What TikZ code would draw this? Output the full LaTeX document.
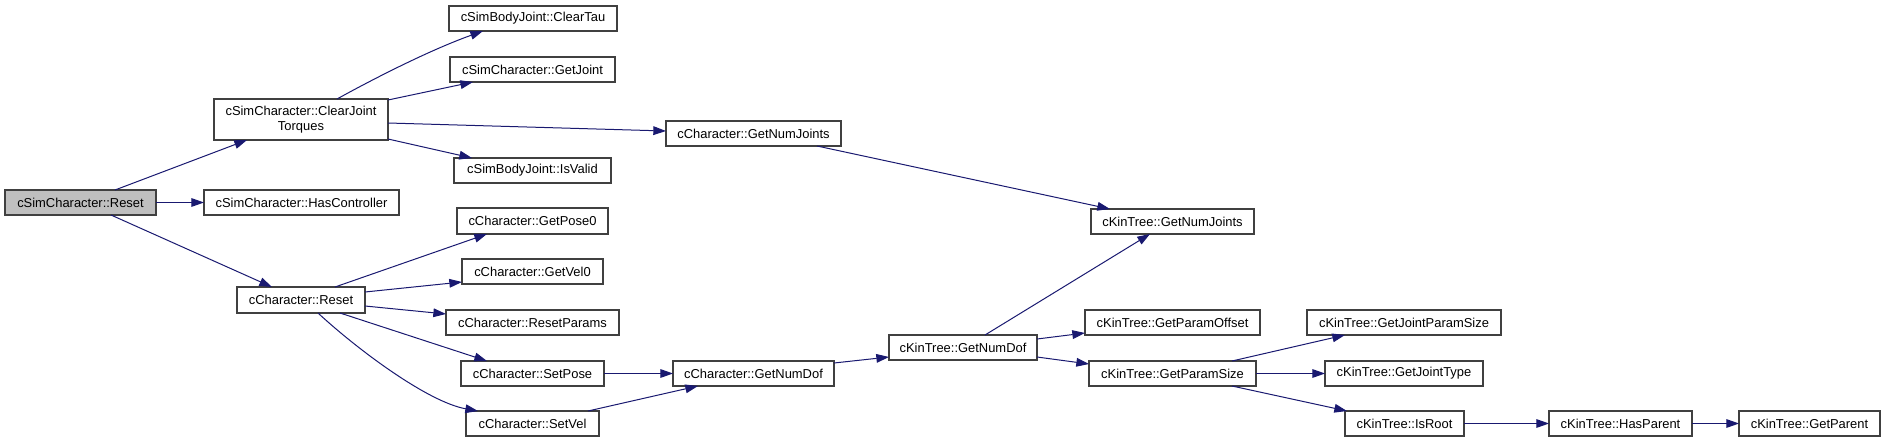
\documentclass[tikz,border=0pt]{standalone}
\usepackage{fontspec}
\setmainfont{Liberation Sans}
\usetikzlibrary{arrows.meta}
\definecolor{edgeblue}{RGB}{25,25,112}
\definecolor{boxborder}{RGB}{64,64,64}
\definecolor{rootfill}{RGB}{191,191,191}
\newcommand\fnbox[7][]{\node[fnnode,#1,minimum width={(#5-#3)*0.75pt},minimum height={(#6-#4)*0.75pt}] (#2) at ({(#3+#5)/2},{(#4+#6)/2}) {#7};}
\newcommand\callto[7][]{\draw[calledge,#1] ([shift={(#3,#4)}]#2.north west) -- ([shift={(#6,#7)}]#5.north west);}
\begin{document}
\begin{tikzpicture}[x=0.75pt,y=-0.75pt,
  fnnode/.style={draw=boxborder,line width=0.8pt,fill=white,inner sep=0pt,outer sep=0pt,
    font=\fontsize{9.7}{11.6}\selectfont,align=center},
  calledge/.style={draw=edgeblue,line width=0.75pt,-{Triangle[length=9.5pt,width=6.5pt]}}]
\useasboundingbox (0,0) rectangle (1885,443);
% nodes
\fnbox[fill=rootfill]{reset}{5}{190}{156}{215}{cSimCharacter::Reset}
\fnbox{hasctrl}{204}{190}{399}{215}{cSimCharacter::HasController}
\fnbox{clearjt}{214}{99}{388}{140}{cSimCharacter::ClearJoint\\Torques}
\fnbox{creset}{237}{287}{365}{313}{cCharacter::Reset}
\fnbox{cleartau}{449}{6}{617}{31}{cSimBodyJoint::ClearTau}
\fnbox{getjoint}{450}{57}{615}{82}{cSimCharacter::GetJoint}
\fnbox{isvalid}{454}{158}{611}{183}{cSimBodyJoint::IsValid}
\fnbox{getpose}{457}{208}{608}{234}{cCharacter::GetPose0}
\fnbox{getvel}{462}{259}{603}{284}{cCharacter::GetVel0}
\fnbox{resetparams}{446}{310}{619}{335}{cCharacter::ResetParams}
\fnbox{setpose}{461}{361}{604}{386}{cCharacter::SetPose}
\fnbox{setvel}{466}{411}{599}{436}{cCharacter::SetVel}
\fnbox{cnumjoints}{666}{121}{841}{146}{cCharacter::GetNumJoints}
\fnbox{cnumdof}{673}{361}{834}{386}{cCharacter::GetNumDof}
\fnbox{knumdof}{889}{335}{1037}{360}{cKinTree::GetNumDof}
\fnbox{knumjoints}{1091}{209}{1254}{234}{cKinTree::GetNumJoints}
\fnbox{paramoffset}{1085}{310}{1260}{335}{cKinTree::GetParamOffset}
\fnbox{paramsize}{1089}{361}{1256}{386}{cKinTree::GetParamSize}
\fnbox{jointparamsize}{1307}{310}{1501}{335}{cKinTree::GetJointParamSize}
\fnbox{jointtype}{1325}{361}{1483}{386}{cKinTree::GetJointType}
\fnbox{isroot}{1345}{411}{1464}{436}{cKinTree::IsRoot}
\fnbox{hasparent}{1549}{411}{1692}{436}{cKinTree::HasParent}
\fnbox{getparent}{1739}{411}{1880}{436}{cKinTree::GetParent}
% edges
\callto{reset}{110}{0}{clearjt}{33}{41}
\callto{reset}{151}{12.5}{hasctrl}{0}{12.5}
\callto{reset}{106}{25}{creset}{35}{0}
\draw[calledge] ([shift={(123,0)}]clearjt.north west) .. controls (375,78) and (430,50) .. ([shift={(34,25)}]cleartau.north west);
\callto{clearjt}{174}{1}{getjoint}{23}{25}
\callto{clearjt}{174}{24}{cnumjoints}{0}{10}
\callto{clearjt}{174}{40}{isvalid}{18}{0}
\callto{creset}{98}{0}{getpose}{30}{26}
\callto{creset}{128}{5}{getvel}{0}{23}
\callto{creset}{128}{19}{resetparams}{0}{4}
\callto{creset}{103}{26}{setpose}{26}{0}
\draw[calledge] ([shift={(81,26)}]creset.north west) .. controls (358,350) and (428,402) .. ([shift={(12,0)}]setvel.north west);
\callto{setpose}{143}{12.5}{cnumdof}{0}{12.5}
\callto{setvel}{122}{0}{cnumdof}{25}{25}
\callto{cnumjoints}{151}{25}{knumjoints}{19}{0}
\callto{cnumdof}{161}{2}{knumdof}{0}{22}
\callto{knumdof}{96}{0}{knumjoints}{59}{25}
\callto{knumdof}{148}{4}{paramoffset}{0}{23}
\callto{knumdof}{148}{22}{paramsize}{0}{3}
\callto{paramsize}{143}{0}{jointparamsize}{38}{25}
\callto{paramsize}{167}{12.5}{jointtype}{0}{12.5}
\callto{paramsize}{143}{25}{isroot}{2}{0}
\callto{isroot}{119}{12.5}{hasparent}{0}{12.5}
\callto{hasparent}{143}{12.5}{getparent}{0}{12.5}
\end{tikzpicture}
\end{document}
